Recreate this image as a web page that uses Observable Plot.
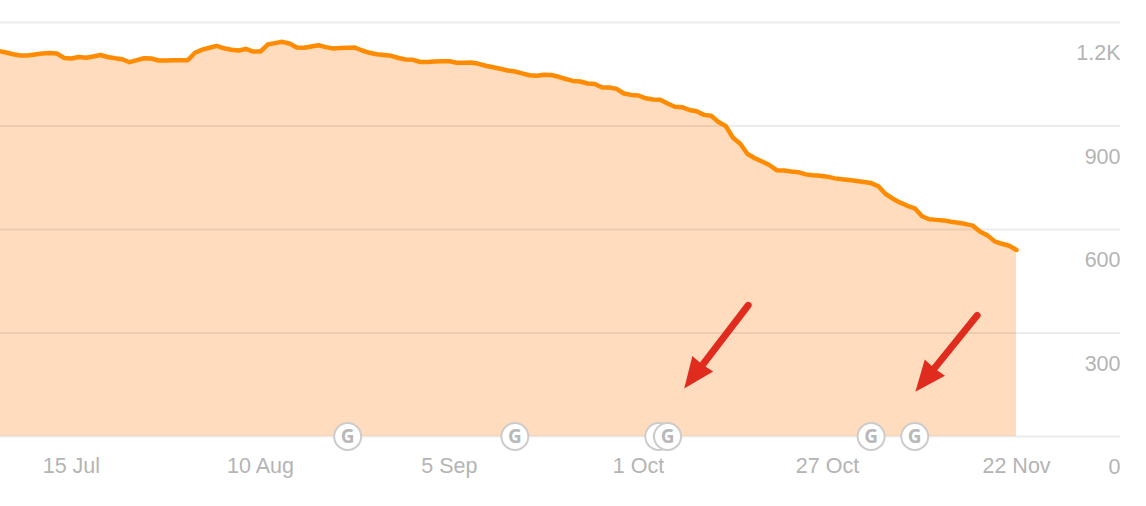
<!DOCTYPE html>
<html><head><meta charset="utf-8">
<script src="https://cdn.jsdelivr.net/npm/d3@7"></script>
<script src="https://cdn.jsdelivr.net/npm/@observablehq/plot@0.6"></script>
<style>html,body{margin:0;padding:0;background:#fff}svg{display:block}</style>
</head><body><div id="chart"></div>
<script>
const startDate = "2021-07-05";
const values = [
1117.6,1113,1107.8,1104.3,1104.3,1107.2,1110.1,1111.8,1110.1,1097.4,1095.6,1100.2,1097.9,1101.7,1105.8,1100,1096.2,1093.6,1084.9,1091,
1096.5,1095.6,1089.8,1089.8,1090.4,1090.4,1090.7,1112.4,1121.4,1126.9,1132.1,1125.2,1121.1,1118.8,1123.4,1115.9,1115.9,1136.2,1140.2,1144,
1139.1,1127.5,1126.6,1130.4,1133.9,1128.6,1124.6,1125.8,1126.6,1127.2,1118.8,1112.1,1107.8,1105.5,1103.4,1097.1,1092.7,1091.8,1085.5,1085.5,
1086.9,1087.8,1087.5,1083.4,1083.4,1084,1080.2,1074.7,1070.1,1065.8,1060.8,1057.9,1052.7,1047.2,1045.5,1048.7,1047.8,1042.6,1036.2,1030.7,
1029,1023.2,1021.7,1011.6,1011.6,1007.5,994.2,990.1,988.4,980.2,976.8,975.9,965.2,955.9,954.5,946.4,942.6,932.2,929.6,911.6,
900,865.8,848.4,818.9,806.4,797.1,787,771.9,771.1,768.2,766.1,759.8,757.4,756,753.1,748.2,745.5,743.2,740.6,737.7,
734.5,725.5,702.9,689.3,677.7,668.7,661.5,638.3,629.6,627.9,626.4,622.7,619.5,615.7,611.1,593.4,583,565.6,558.6,552.8,540.6
];
const xTicks = ["2021-07-15","2021-08-10","2021-09-05","2021-10-01","2021-10-27","2021-11-22"];
const yTicks = [0,300,600,900,1200];
const googleUpdates = ["2021-08-22","2021-09-14","2021-10-03T19:00","2021-10-05","2021-11-02","2021-11-08"];
const arrowTails = [["2021-10-16T02:00",380],["2021-11-16T14:00",351]];
const shaftEnds = [["2021-10-09T00:00",185],["2021-11-09T20:00",175]];
const arrowTips = [["2021-10-07T07:00",139],["2021-11-08T02:00",130]];
const arrowAngles = [36.8,39];

const day = 864e5;
const utc = s => new Date(s.length > 10 ? s + "Z" : s + "T00:00Z");
const t0 = utc(startDate);
const series = values.map((v,i) => ({date:new Date(+t0 + i*day), value:v}));
const fmtX = d => `${d.getUTCDate()} ${d3.utcFormat("%b")(d)}`;
const fmtY = v => v >= 1000 ? (v/1000) + "K" : String(v);
const grey = "#b4b4b4";
const red = "#e02b1f";

const arrows = arrowTails.map((t,i) => ({
  x1:utc(t[0]), y1:t[1], x2:utc(shaftEnds[i][0]), y2:shaftEnds[i][1],
  tipX:utc(arrowTips[i][0]), tipY:arrowTips[i][1], rotate:arrowAngles[i]
}));
const head = {draw(c){c.moveTo(0,0);c.lineTo(-13,-31);c.lineTo(0,-30);c.lineTo(13,-31);c.closePath();}};

const googleMarks = googleUpdates.map(utc).flatMap(d => [
  Plot.dot([d],{x:v=>v,y:()=>0,r:13.5,fill:"#fff",stroke:"#cccccc",strokeWidth:2}),
  Plot.text([d],{x:v=>v,y:()=>0,text:()=>"G",fill:"#b8b8b8",fontWeight:"bold",fontSize:19,fontFamily:"'Open Sans'"})
]);

const chart = Plot.plot({
  width:1146, height:506,
  marginLeft:0, marginRight:26, marginTop:22, marginBottom:70,
  style:{fontFamily:"'Liberation Sans',Arial,sans-serif",fontSize:"21.5px",background:"#fff"},
  x:{type:"utc",domain:[new Date(+t0+0.25*day),new Date(+utc("2021-11-22")+14.3*day)]},
  y:{domain:[0,1200]},
  marks:[
    Plot.areaY(series,{x:"date",y:"value",fill:"#ffdcbe",clip:true}),
    Plot.ruleY(yTicks,{stroke:"#000",strokeOpacity:0.075,strokeWidth:2}),
    Plot.lineY(series,{x:"date",y:"value",stroke:"#ff8c00",strokeWidth:4.5,curve:"linear",clip:true}),
    Plot.axisX(xTicks.map(utc),{tickSize:0,tickPadding:21,tickFormat:fmtX,fill:grey,fontSize:21.5,label:null}),
    Plot.axisY(yTicks,{anchor:"right",tickSize:0,tickPadding:0,textAnchor:"end",dy:30.7,tickFormat:fmtY,fill:grey,fontSize:21.5,label:null}),
    ...googleMarks,
    Plot.link(arrows,{x1:"x1",y1:"y1",x2:"x2",y2:"y2",stroke:red,strokeWidth:7,strokeLinecap:"round"}),
    Plot.vector(arrows,{x:"tipX",y:"tipY",rotate:"rotate",length:33,anchor:"start",shape:head,fill:red,stroke:"none"})
  ]
});
document.getElementById("chart").append(chart);
</script>
</body></html>
